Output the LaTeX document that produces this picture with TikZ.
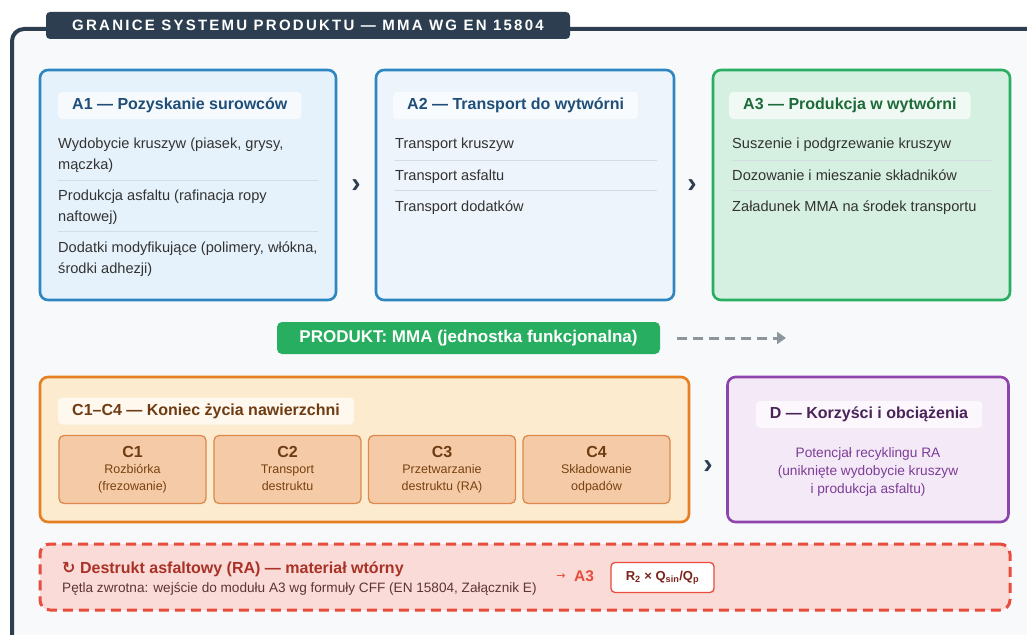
\documentclass[tikz,border=0pt]{standalone}
\usepackage{fontspec}
\setmainfont{Liberation Sans}
\newfontfamily\symfnt{DejaVu Sans}
\usetikzlibrary{arrows.meta}
\definecolor{cFrame}{HTML}{2C3E50}
\definecolor{cBg}{HTML}{F8F9FB}
\definecolor{cBlue}{HTML}{2E86C1}
\definecolor{cA1}{HTML}{E6F2FB}
\definecolor{cA2}{HTML}{EDF4FB}
\definecolor{cBlueTxt}{HTML}{1F4E79}
\definecolor{cGreen}{HTML}{27AE60}
\definecolor{cA3}{HTML}{D5F0E0}
\definecolor{cGreenTxt}{HTML}{1E6B3A}
\definecolor{cItem}{HTML}{333333}
\definecolor{cSep}{HTML}{D5DDE3}
\definecolor{cOrange}{HTML}{E67E22}
\definecolor{cC}{HTML}{FDEBD0}
\definecolor{cSub}{HTML}{F5CBA7}
\definecolor{cSubLine}{HTML}{DC8A4B}
\definecolor{cBrown}{HTML}{6E3B12}
\definecolor{cBrownTxt}{HTML}{784212}
\definecolor{cPurple}{HTML}{8E44AD}
\definecolor{cD}{HTML}{F4EAF7}
\definecolor{cPurpleDark}{HTML}{4A235A}
\definecolor{cPurpleTxt}{HTML}{7D3C98}
\definecolor{cRed}{HTML}{E74C3C}
\definecolor{cRA}{HTML}{FADBD8}
\definecolor{cRedDark}{HTML}{A93226}
\definecolor{cRedTxt}{HTML}{5E3434}
\definecolor{cFormula}{HTML}{7B241C}
\definecolor{cGray}{HTML}{8C979D}
\begin{document}
\begin{tikzpicture}[x=1pt,y=-1pt,
  box/.style={rounded corners=8pt, line width=2.6pt, inner sep=0pt},
  chip/.style={fill=white, fill opacity=0.65, text opacity=1, rounded corners=4pt, inner xsep=14pt, inner ysep=0pt, minimum height=27pt, font=\fontsize{16}{19}\selectfont\bfseries, anchor=west},
  item/.style={anchor=base west, inner sep=0pt, font=\fontsize{14.6}{17}\selectfont, text=cItem},
  sepline/.style={draw=cSep, line width=1pt},
  chev/.style={font=\fontsize{28}{28}\selectfont\bfseries, text=cFrame, inner sep=0pt},
  subbox/.style={draw=cSubLine, fill=cSub, line width=1.3pt, rounded corners=5pt, minimum width=147pt, minimum height=68pt, inner sep=0pt},
  subhead/.style={font=\fontsize{16}{18}\selectfont\bfseries, text=cBrown, inner sep=0pt},
  subtxt/.style={anchor=base, font=\fontsize{12.5}{15}\selectfont, text=cBrownTxt, inner sep=0pt},
  dtxt/.style={anchor=base, font=\fontsize{13.7}{16}\selectfont, text=cPurpleTxt, inner sep=0pt}
]
\useasboundingbox (0,0) rectangle (1027,634);
\fill[white] (0,0) rectangle (1027,634);
\begin{scope}
\clip (0,0) rectangle (1027,634);
\draw[cFrame, line width=4pt, fill=cBg, rounded corners=12pt] (12,29) rectangle (1045,650);
\end{scope}
% title tab
\node[fill=cFrame, rounded corners=4pt, minimum width=524pt, minimum height=27pt, inner sep=0pt, text=white,
  font=\fontsize{15}{17}\selectfont\bfseries\addfontfeatures{LetterSpace=15}] (title) at (308,25.5)
  {GRANICE SYSTEMU PRODUKTU — MMA WG EN 15804};

% A boxes
\node[box, draw=cBlue, fill=cA1, minimum width=296pt, minimum height=230pt] (A1) at (188,185) {};
\node[box, draw=cBlue, fill=cA2, minimum width=298pt, minimum height=230pt] (A2) at (525,185) {};
\node[box, draw=cGreen, fill=cA3, minimum width=297pt, minimum height=230pt] (A3) at (861.5,185) {};

\node[chip, text=cBlueTxt] (A1h) at (58,105.5) {A1 — Pozyskanie surowców};
\node[chip, text=cBlueTxt] (A2h) at (393,105.5) {A2 — Transport do wytwórni};
\node[chip, text=cGreenTxt] (A3h) at (729,105.5) {A3 — Produkcja w wytwórni};

% A1 items
\node[item] (a11) at (58,148) {Wydobycie kruszyw (piasek, grysy,};
\node[item] (a11b) at (58,169) {mączka)};
\draw[sepline] (58,180) -- (318,180);
\node[item] (a12) at (58,200) {Produkcja asfaltu (rafinacja ropy};
\node[item] (a12b) at (58,221) {naftowej)};
\draw[sepline] (58,231) -- (318,231);
\node[item] (a13) at (58,252) {Dodatki modyfikujące (polimery, włókna,};
\node[item] (a13b) at (58,273) {środki adhezji)};

% A2 items
\node[item] (a21) at (395,148) {Transport kruszyw};
\draw[sepline] (394,160) -- (657,160);
\node[item] (a22) at (395,180) {Transport asfaltu};
\draw[sepline] (394,190) -- (657,190);
\node[item] (a23) at (395,211) {Transport dodatków};

% A3 items
\node[item] (a31) at (732,148) {Suszenie i podgrzewanie kruszyw};
\draw[sepline] (731,160) -- (992,160);
\node[item] (a32) at (732,180) {Dozowanie i mieszanie składników};
\draw[sepline] (731,190) -- (992,190);
\node[item] (a33) at (732,211) {Załadunek MMA na środek transportu};

% chevrons
\node[chev] (ch1) at (356,186) {›};
\node[chev] (ch2) at (692,186) {›};

% product
\node[fill=cGreen, rounded corners=5pt, minimum width=383pt, minimum height=32pt, inner sep=0pt, text=white,
  font=\fontsize{17}{19}\selectfont\bfseries] (prod) at (468.5,338) {PRODUKT: MMA (jednostka funkcjonalna)};
\coordinate (prodEnd) at (786,338);
\draw[cGray, line width=3pt, dash pattern=on 10pt off 6pt, -{Triangle[length=9pt,width=12pt]}]
  ([xshift=17pt]prod.east) -- (prodEnd);

% C box
\node[box, draw=cOrange, fill=cC, minimum width=649pt, minimum height=145pt] (C) at (364.5,449.5) {};
\node[chip, text=cBrown] (Ch) at (58,411) {C1–C4 — Koniec życia nawierzchni};
\node[subbox] (C1) at (132.5,469.5) {};
\node[subbox] (C2) at (287.5,469.5) {};
\node[subbox] (C3) at (442,469.5) {};
\node[subbox] (C4) at (596.5,469.5) {};
\node[subhead] (C1t) at (132.5,452) {C1};
\node[subtxt] (C1a) at (132.5,473.5) {Rozbiórka};
\node[subtxt] (C1b) at (132.5,490.5) {(frezowanie)};
\node[subhead] (C2t) at (287.5,452) {C2};
\node[subtxt] (C2a) at (287.5,473.5) {Transport};
\node[subtxt] (C2b) at (287.5,490.5) {destruktu};
\node[subhead] (C3t) at (442,452) {C3};
\node[subtxt] (C3a) at (442,473.5) {Przetwarzanie};
\node[subtxt] (C3b) at (442,490.5) {destruktu (RA)};
\node[subhead] (C4t) at (596.5,452) {C4};
\node[subtxt] (C4a) at (596.5,473.5) {Składowanie};
\node[subtxt] (C4b) at (596.5,490.5) {odpadów};

\node[chev] (ch3) at (708,467) {›};

% D box
\node[box, draw=cPurple, fill=cD, minimum width=281pt, minimum height=145pt] (D) at (868,449.5) {};
\node[chip, anchor=center, text=cPurpleDark] (Dh) at (869,414.5) {D — Korzyści i obciążenia};
\node[dtxt] (D1) at (868,457.5) {Potencjał recyklingu RA};
\node[dtxt] (D2) at (868,475.5) {(uniknięte wydobycie kruszyw};
\node[dtxt] (D3) at (868,493) {i produkcja asfaltu)};

% RA box
\node[draw=cRed, fill=cRA, line width=3pt, dash pattern=on 10pt off 6pt, rounded corners=10pt,
  minimum width=970pt, minimum height=66pt, inner sep=0pt] (RA) at (525,577) {};
\node[anchor=base west, inner sep=0pt, text=cRedDark, font=\fontsize{16}{18}\selectfont\bfseries] (RAt) at (62,573.5)
  {{\symfnt\bfseries ↻} Destrukt asfaltowy (RA) — materiał wtórny};
\node[anchor=base west, inner sep=0pt, text=cRedTxt, font=\fontsize{13.6}{15}\selectfont] (RAs) at (62,592.5)
  {Pętla zwrotna: wejście do modułu A3 wg formuły CFF (EN 15804, Załącznik E)};
\node[inner sep=0pt, text=cRed, font=\symfnt\fontsize{11}{13}\selectfont] (RAarr) at (561,577) {→};
\node[anchor=west, inner sep=0pt, text=cRed, font=\fontsize{15.5}{18}\selectfont\bfseries] (RAa3) at (574,576.5) {A3};
\node[draw=cRed, fill=white, line width=1.3pt, rounded corners=4pt, minimum width=103pt, minimum height=30pt, inner sep=0pt,
  text=cFormula, font=\fontsize{13}{15}\selectfont\bfseries] (formula) at (662.5,577.5)
  {R\textsubscript{2} × Q\textsubscript{sin}/Q\textsubscript{p}};
\end{tikzpicture}
\end{document}
